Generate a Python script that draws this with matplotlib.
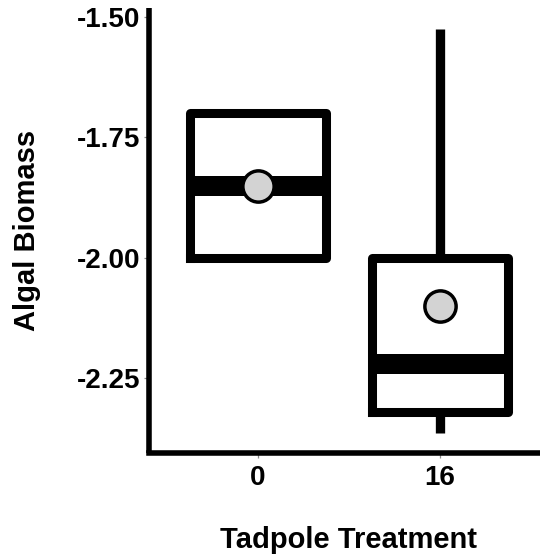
import matplotlib
matplotlib.use("Agg")
import matplotlib.pyplot as plt

# Tadpole treatment groups and box summary statistics of algal biomass
treatments = ["0", "16"]
q1 = [-2.00, -2.32]
medians = [-1.85, -2.22]
q3 = [-1.70, -2.00]
whisker_low = [-2.00, -2.365]
whisker_high = [-1.70, -1.525]
means = [-1.85, -2.10]

y_ticks = [-2.25, -2.00, -1.75, -1.50]
y_tick_labels = ["-2.25", "-2.00", "-1.75", "-1.50"]

plt.rcParams["font.family"] = ["Liberation Sans", "DejaVu Sans"]
plt.rcParams["font.weight"] = "bold"

fig = plt.figure(figsize=(5.40, 5.55), dpi=100)
ax = fig.add_axes([149 / 540, 102 / 555, 400 / 540, 445 / 555])

stats = []
for i, name in enumerate(treatments):
    stats.append(dict(label=name, q1=q1[i], med=medians[i], q3=q3[i],
                      whislo=whisker_low[i], whishi=whisker_high[i],
                      mean=means[i], fliers=[]))

positions = list(range(1, len(treatments) + 1))
ax.bxp(stats, positions=positions, widths=0.75, showmeans=True,
       showcaps=False, showfliers=False,
       boxprops=dict(color="black", linewidth=6.5, solid_joinstyle="round"),
       whiskerprops=dict(color="black", linewidth=6.7, solid_capstyle="butt"),
       medianprops=dict(color="black", linewidth=14.4, solid_capstyle="butt"),
       meanprops=dict(marker="o", markersize=22.5, markerfacecolor="#d3d3d3",
                      markeredgecolor="black", markeredgewidth=2.5))

ax.set_xlim(0.4, 2.6)
ax.set_ylim(-2.406, -1.481)
ax.set_yticks(y_ticks)
ax.set_yticklabels(y_tick_labels)
ax.set_xticks(positions)
ax.set_xticklabels(treatments)

for side in ("top", "right"):
    ax.spines[side].set_visible(False)
for side in ("left", "bottom"):
    ax.spines[side].set_linewidth(4.0)
    ax.spines[side].set_color("black")
ax.spines["left"].set_capstyle("butt")
ax.spines["bottom"].set_capstyle("projecting")

ax.tick_params(axis="both", colors="#8a8a8a", length=3.5, width=0.9,
               labelcolor="black", labelsize=20, pad=3)
ax.tick_params(axis="x", pad=5)
for lab in ax.get_xticklabels() + ax.get_yticklabels():
    lab.set_fontweight("bold")

ax.set_xlabel("Tadpole Treatment", fontsize=21, fontweight="bold")
ax.set_ylabel("Algal Biomass", fontsize=21, fontweight="bold")
ax.xaxis.set_label_coords(0.5, -0.165)
ax.yaxis.set_label_coords(-0.27, 0.5)

fig.savefig("out.png", dpi=100, facecolor="white")
